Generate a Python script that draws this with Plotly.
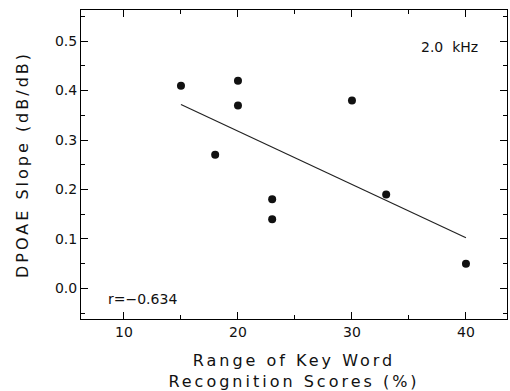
import numpy as np
import plotly.graph_objects as go

# Data
key_word_range = [15, 18, 20, 20, 23, 23, 30, 33, 40]
dpoae_slope = [0.41, 0.27, 0.42, 0.37, 0.18, 0.14, 0.38, 0.19, 0.05]
x_ticks = [10, 20, 30, 40]
y_ticks = [0.0, 0.1, 0.2, 0.3, 0.4, 0.5]
freq_label = "2.0\u00a0\u00a0kHz"
r_label = "r=\u22120.634"

# Least-squares regression line from the data
slope, intercept = np.polyfit(key_word_range, dpoae_slope, 1)
fit_x = [min(key_word_range), max(key_word_range)]
fit_y = [slope * v + intercept for v in fit_x]

FONT = "DejaVu Sans"
INK = "#111111"

fig = go.Figure()
fig.add_trace(go.Scatter(
    x=fit_x, y=fit_y, mode="lines",
    line=dict(color="#222222", width=1.2),
    showlegend=False, hoverinfo="skip",
))
fig.add_trace(go.Scatter(
    x=key_word_range, y=dpoae_slope, mode="markers",
    marker=dict(color=INK, size=8),
    showlegend=False,
))

axis_common = dict(
    showgrid=False, zeroline=False,
    showline=True, linecolor="black", linewidth=1,
    mirror="ticks", ticks="inside", ticklen=7, tickwidth=1, tickcolor="black",
    tickfont=dict(family=FONT, size=14, color=INK),
)

fig.update_xaxes(
    range=[6.23, 43.6], tickvals=x_ticks,
    minor=dict(dtick=5, tick0=0, ticks="inside", ticklen=4, tickwidth=1, tickcolor="black"),
    title=dict(text="Range of Key Word<br>Recognition Scores (%)",
               font=dict(family=FONT, size=16, color=INK), standoff=17),
    **axis_common,
)
fig.update_yaxes(
    range=[-0.062, 0.563], tickvals=y_ticks, tickformat=".1f",
    minor=dict(dtick=0.05, tick0=0, ticks="inside", ticklen=4, tickwidth=1, tickcolor="black"),
    title=dict(text="DPOAE Slope (dB/dB)",
               font=dict(family=FONT, size=16, color=INK), standoff=22),
    **axis_common,
)

fig.add_annotation(x=0.864, y=0.881, xref="paper", yref="paper",
                   text=freq_label, showarrow=False,
                   xanchor="center", yanchor="middle",
                   font=dict(family=FONT, size=14, color=INK))
fig.add_annotation(x=0.0587, y=0.065, xref="paper", yref="paper",
                   text=r_label, showarrow=False,
                   xanchor="left", yanchor="middle",
                   font=dict(family=FONT, size=14, color=INK))

fig.update_layout(
    width=510, height=391,
    margin=dict(l=81, r=3, t=10, b=72),
    plot_bgcolor="white", paper_bgcolor="white",
)

# widen the axis-title lettering like the original's stroke font
post = """
var s = document.createElement('style');
s.textContent = '.g-xtitle text, .g-ytitle text {letter-spacing: 3px;}';
document.head.appendChild(s);
"""
fig.write_html("out.html", post_script=post)
